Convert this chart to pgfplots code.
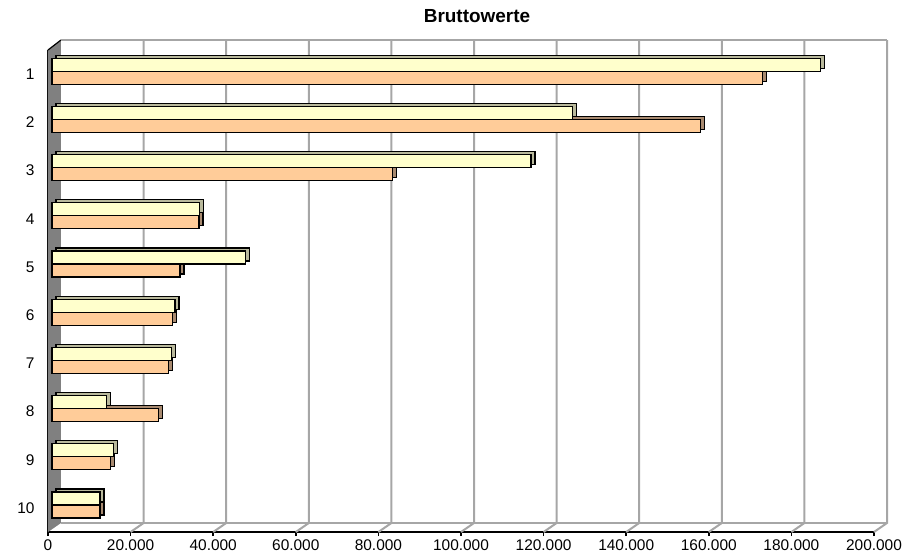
\documentclass[border=0pt]{standalone}
\usepackage{pgfplots}
\usepackage{pgfplotstable}
\pgfplotsset{compat=1.18}
\usepackage{fontspec}
\setmainfont{Liberation Sans}
\definecolor{byel}{HTML}{FFFFCC}
\definecolor{bora}{HTML}{FFCC99}
\definecolor{syel}{HTML}{B9B99C}
\definecolor{sora}{HTML}{A88A70}
\definecolor{gridg}{HTML}{A6A6A6}
\definecolor{wallg}{HTML}{808080}

\pgfplotstableread{
cat yel ora
1 186000 172000
2 126000 157000
3 116000 82500
4 35800 35600
5 46900 31000
6 29800 29200
7 29000 28200
8 13200 25700
9 14900 14200
10 11600 11600
}\data

\begin{document}
\begin{tikzpicture}
\begin{axis}[
  name=ax,
  scale only axis, width=826bp, height=482bp,
  xbar, bar width=13bp,
  xmin=0, xmax=200000, ymin=0.5, ymax=10.5, y dir=reverse,
  axis lines*=left, axis line style={black, line width=1.5bp},
  xtick={0,20000,40000,60000,80000,100000,120000,140000,160000,180000,200000},
  ytick={1,2,3,4,5,6,7,8,9,10},
  major y tick style={draw=none},
  extra y ticks={0.5,1.5,2.5,3.5,4.5,5.5,6.5,7.5,8.5,9.5,10.5},
  extra y tick labels={},
  extra y tick style={grid=none},
  tick style={black, line width=1.5bp},
  tick align=outside, major tick length=4bp,
  scaled x ticks=false,
  x tick label style={/pgf/number format/fixed, /pgf/number format/1000 sep={.}},
  /pgf/number format/assume math mode=true,
  tick label style={font=\fontsize{15.5}{18}\selectfont},
  y tick label style={xshift=-6bp},
  title={Bruttowerte},
  title style={font=\fontsize{19}{22}\selectfont\bfseries, at={(0.5,1)}, anchor=center, yshift=28bp, xshift=16bp},
  clip=false,
]
% 3D walls (decoration)
\fill[wallg] (axis cs:0,0.5) -- ([shift={(13bp,10bp)}]axis cs:0,0.5) -- ([shift={(13bp,9bp)}]axis cs:0,10.5) -- (axis cs:0,10.5) -- cycle;
\draw[black, line width=1.2bp] (axis cs:0,0.5) -- ([shift={(13bp,10bp)}]axis cs:0,0.5);
\draw[gridg, line width=2bp] ([shift={(13bp,10bp)}]axis cs:0,0.5) -- ([shift={(13bp,10bp)}]axis cs:200000,0.5);
\draw[gridg, line width=2bp] ([shift={(13bp,9bp)}]axis cs:0,10.5) -- ([shift={(13bp,9bp)}]axis cs:200000,10.5);
\pgfplotsinvokeforeach{20000,40000,60000,80000,100000,120000,140000,160000,180000,200000}{
  \draw[gridg, line width=2bp] ([shift={(13bp,10bp)}]axis cs:#1,0.5) -- ([shift={(13bp,9bp)}]axis cs:#1,10.5) -- (axis cs:#1,10.5);
}
\coordinate (O) at (axis cs:0,10.5);
% orange series (lower bar)
\addplot[fill=sora, draw=black, line width=1.2bp, bar shift=-6.5bp, xshift=8bp, yshift=6bp] table[x=ora, y=cat] {\data};
\addplot[fill=bora, draw=black, line width=1.2bp, bar shift=-6.5bp, xshift=4bp, yshift=3bp] table[x=ora, y=cat] {\data};
% yellow series (upper bar)
\addplot[fill=syel, draw=black, line width=1.2bp, bar shift=6.5bp, xshift=8bp, yshift=6bp] table[x=yel, y=cat] {\data};
\addplot[fill=byel, draw=black, line width=1.2bp, bar shift=6.5bp, xshift=4bp, yshift=3bp] table[x=yel, y=cat] {\data};
\end{axis}
\pgfresetboundingbox
\path[use as bounding box] ([shift={(-48bp,-27bp)}]O) rectangle ++(917bp,559bp);
\end{tikzpicture}
\end{document}
